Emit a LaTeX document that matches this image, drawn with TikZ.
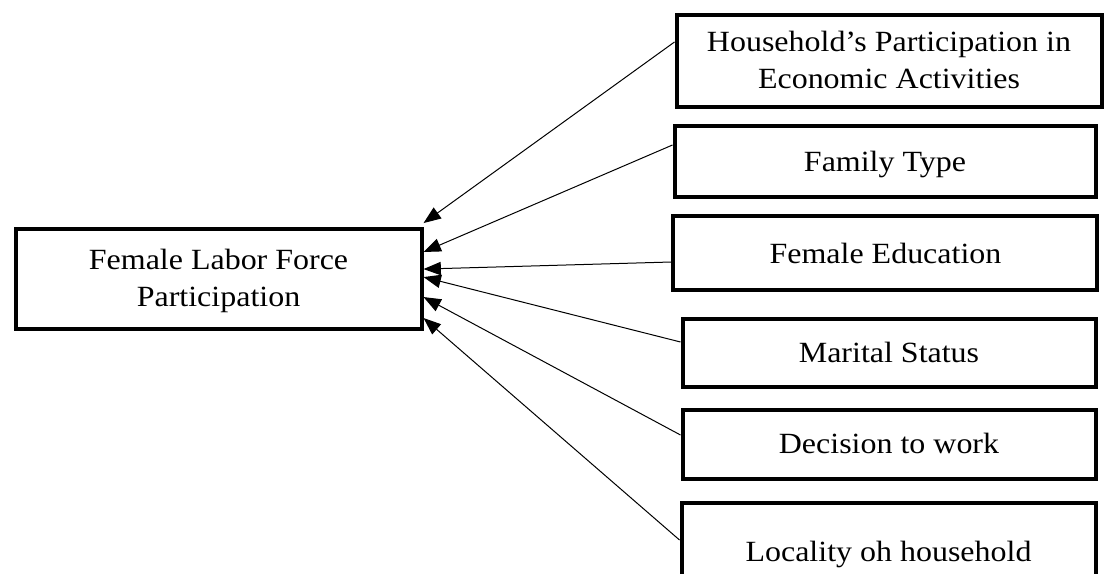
\documentclass[tikz,border=0pt]{standalone}
\usepackage{fontspec}
\setmainfont{Liberation Serif}[FakeStretch=1.09]
\usetikzlibrary{arrows.meta}
\tikzstyle{diagram} = [x = 1pt, y = -1pt]
\tikzstyle{boxStyle} = [draw, line width = 3pt, inner sep = 0pt, align = center, font = \fontsize{22}{27.4}\selectfont]
\tikzstyle{oneLine} = [text height = 14.6pt, text depth = 0pt]
\tikzstyle{twoLine} = [text height = 42pt, text depth = 0pt]
\tikzstyle{factorArrow} = [line width = 0.75pt, -{Triangle[length=13pt, width=10pt]}]

\begin{document}
\begin{tikzpicture}[diagram]
  \useasboundingbox (0,0) rectangle (828,430.5);
  % dependent variable
  \node [boxStyle, twoLine, minimum width = 304.5pt, minimum height = 75pt] (flfp) at (163.9,208.9) {Female Labor Force\\Participation};
  % factors
  \node [boxStyle, twoLine, minimum width = 318.75pt, minimum height = 69pt] (household) at (666.75,45.4) {Household’s Participation in\\Economic Activities};
  \node [boxStyle, oneLine, minimum width = 315.75pt, minimum height = 53.25pt] (family) at (663.75,121.5) {Family Type};
  \node [boxStyle, oneLine, minimum width = 318pt, minimum height = 55.5pt] (education) at (664.1,190.1) {Female Education};
  \node [boxStyle, oneLine, minimum width = 309.75pt, minimum height = 51pt] (marital) at (666.75,264.4) {Marital Status};
  \node [boxStyle, oneLine, minimum width = 309.75pt, minimum height = 51.75pt] (decision) at (666.75,333) {Decision to work};
  \node [boxStyle, oneLine, minimum width = 310.5pt, minimum height = 72.8pt] (locality) at (666.4,414) {Locality oh household};
  % arrows
  \foreach \factor/\startShift/\endShift in {household/13.9/41.6, family/12.75/19.9, education/-6.4/7.1, marital/7.9/1.1, decision/6.75/-13.9, locality/9/-29.6} {
    \draw [factorArrow] ([yshift=\startShift pt]\factor.west) -- ([yshift=\endShift pt]flfp.east);
  }
\end{tikzpicture}
\end{document}
